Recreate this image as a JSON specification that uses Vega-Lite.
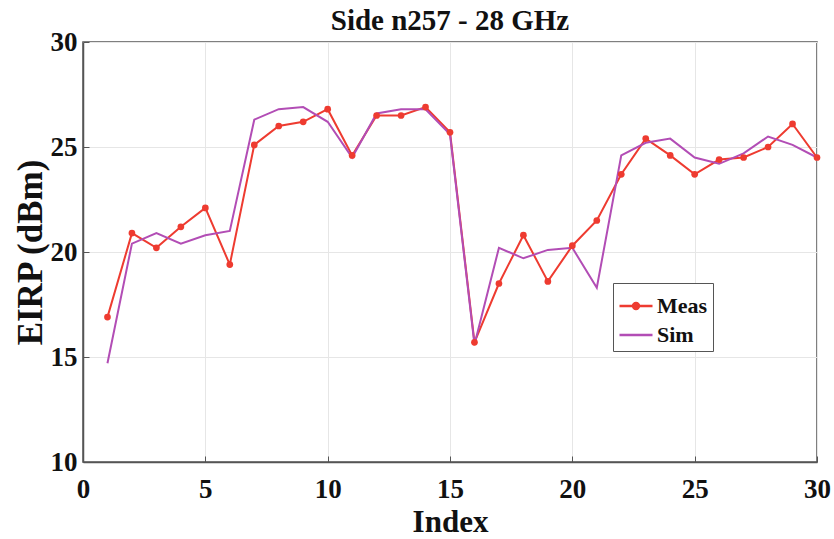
{
  "$schema": "https://vega.github.io/schema/vega-lite/v6.json",
  "autosize": {"type": "none"},
  "padding": {"left": 83, "top": 42, "right": 17, "bottom": 77},
  "width": 734,
  "height": 420,
  "background": "white",
  "title": {"text": "Side n257 - 28 GHz", "font": "Liberation Serif", "fontSize": 29, "fontWeight": "bold", "color": "#111", "baseline": "alphabetic", "offset": -4, "dy": 27},
  "data": {"values": [
    {"Index": 1, "EIRP": 16.9, "Series": "Meas"},
    {"Index": 2, "EIRP": 20.9, "Series": "Meas"},
    {"Index": 3, "EIRP": 20.2, "Series": "Meas"},
    {"Index": 4, "EIRP": 21.2, "Series": "Meas"},
    {"Index": 5, "EIRP": 22.1, "Series": "Meas"},
    {"Index": 6, "EIRP": 19.4, "Series": "Meas"},
    {"Index": 7, "EIRP": 25.1, "Series": "Meas"},
    {"Index": 8, "EIRP": 26.0, "Series": "Meas"},
    {"Index": 9, "EIRP": 26.2, "Series": "Meas"},
    {"Index": 10, "EIRP": 26.8, "Series": "Meas"},
    {"Index": 11, "EIRP": 24.6, "Series": "Meas"},
    {"Index": 12, "EIRP": 26.5, "Series": "Meas"},
    {"Index": 13, "EIRP": 26.5, "Series": "Meas"},
    {"Index": 14, "EIRP": 26.9, "Series": "Meas"},
    {"Index": 15, "EIRP": 25.7, "Series": "Meas"},
    {"Index": 16, "EIRP": 15.7, "Series": "Meas"},
    {"Index": 17, "EIRP": 18.5, "Series": "Meas"},
    {"Index": 18, "EIRP": 20.8, "Series": "Meas"},
    {"Index": 19, "EIRP": 18.6, "Series": "Meas"},
    {"Index": 20, "EIRP": 20.3, "Series": "Meas"},
    {"Index": 21, "EIRP": 21.5, "Series": "Meas"},
    {"Index": 22, "EIRP": 23.7, "Series": "Meas"},
    {"Index": 23, "EIRP": 25.4, "Series": "Meas"},
    {"Index": 24, "EIRP": 24.6, "Series": "Meas"},
    {"Index": 25, "EIRP": 23.7, "Series": "Meas"},
    {"Index": 26, "EIRP": 24.4, "Series": "Meas"},
    {"Index": 27, "EIRP": 24.5, "Series": "Meas"},
    {"Index": 28, "EIRP": 25.0, "Series": "Meas"},
    {"Index": 29, "EIRP": 26.1, "Series": "Meas"},
    {"Index": 30, "EIRP": 24.5, "Series": "Meas"},
    {"Index": 1, "EIRP": 14.7, "Series": "Sim"},
    {"Index": 2, "EIRP": 20.4, "Series": "Sim"},
    {"Index": 3, "EIRP": 20.9, "Series": "Sim"},
    {"Index": 4, "EIRP": 20.4, "Series": "Sim"},
    {"Index": 5, "EIRP": 20.8, "Series": "Sim"},
    {"Index": 6, "EIRP": 21.0, "Series": "Sim"},
    {"Index": 7, "EIRP": 26.3, "Series": "Sim"},
    {"Index": 8, "EIRP": 26.8, "Series": "Sim"},
    {"Index": 9, "EIRP": 26.9, "Series": "Sim"},
    {"Index": 10, "EIRP": 26.2, "Series": "Sim"},
    {"Index": 11, "EIRP": 24.5, "Series": "Sim"},
    {"Index": 12, "EIRP": 26.6, "Series": "Sim"},
    {"Index": 13, "EIRP": 26.8, "Series": "Sim"},
    {"Index": 14, "EIRP": 26.8, "Series": "Sim"},
    {"Index": 15, "EIRP": 25.6, "Series": "Sim"},
    {"Index": 16, "EIRP": 15.6, "Series": "Sim"},
    {"Index": 17, "EIRP": 20.2, "Series": "Sim"},
    {"Index": 18, "EIRP": 19.7, "Series": "Sim"},
    {"Index": 19, "EIRP": 20.1, "Series": "Sim"},
    {"Index": 20, "EIRP": 20.2, "Series": "Sim"},
    {"Index": 21, "EIRP": 18.3, "Series": "Sim"},
    {"Index": 22, "EIRP": 24.6, "Series": "Sim"},
    {"Index": 23, "EIRP": 25.2, "Series": "Sim"},
    {"Index": 24, "EIRP": 25.4, "Series": "Sim"},
    {"Index": 25, "EIRP": 24.5, "Series": "Sim"},
    {"Index": 26, "EIRP": 24.2, "Series": "Sim"},
    {"Index": 27, "EIRP": 24.7, "Series": "Sim"},
    {"Index": 28, "EIRP": 25.5, "Series": "Sim"},
    {"Index": 29, "EIRP": 25.1, "Series": "Sim"},
    {"Index": 30, "EIRP": 24.5, "Series": "Sim"}
  ]},
  "config": {
    "view": {"stroke": "#555555", "strokeWidth": 1.5},
    "axis": {
      "labelFont": "Liberation Serif", "labelFontSize": 27, "labelFontWeight": "bold", "labelColor": "#111",
      "titleFont": "Liberation Serif", "titleFontWeight": "bold", "titleColor": "#111",
      "gridColor": "#e6e6e6", "gridWidth": 1,
      "domainColor": "#555555", "domainWidth": 1.5,
      "tickColor": "#555555", "tickSize": -6, "tickWidth": 1
    }
  },
  "encoding": {
    "x": {"field": "Index", "type": "quantitative",
      "scale": {"domain": [0, 30], "nice": false},
      "axis": {"values": [0, 5, 10, 15, 20, 25, 30], "title": "Index", "titleFontSize": 31, "labelPadding": 20, "titlePadding": 5, "labelFlush": false}},
    "y": {"field": "EIRP", "type": "quantitative",
      "scale": {"domain": [10, 30], "nice": false},
      "axis": {"values": [10, 15, 20, 25, 30], "title": "EIRP (dBm)", "titleFontSize": 35, "labelPadding": 12, "titlePadding": 2}},
    "color": {"field": "Series", "type": "nominal",
      "scale": {"domain": ["Meas", "Sim"], "range": ["#ee3b30", "#b24db5"]},
      "legend": {"title": null, "orient": "none", "legendX": 530, "legendY": 241,
        "labelFont": "Liberation Serif", "labelFontSize": 22, "labelFontWeight": "bold", "labelColor": "#111",
        "fillColor": "white", "strokeColor": "#555555", "padding": 5, "rowPadding": -4, "labelOffset": 3, "symbolSize": 1089,
        "encode": {"symbols": {"update": {
          "shape": {"signal": "datum.value === 'Meas' ? 'M-1,0H1M-0.18,0A0.18,0.18,0,1,0,0.18,0A0.18,0.18,0,1,0,-0.18,0Z' : 'M-1,0H1'"},
          "fill": {"scale": "color", "field": "value"},
          "stroke": {"scale": "color", "field": "value"},
          "strokeWidth": {"value": 2.5},
          "size": {"value": 1089},
          "opacity": {"value": 1}
        }}}}}
  },
  "layer": [
    {"mark": {"type": "line", "strokeWidth": 2}},
    {"transform": [{"filter": "datum.Series === 'Meas'"}],
     "mark": {"type": "point", "filled": true, "size": 45, "opacity": 1}}
  ]
}
